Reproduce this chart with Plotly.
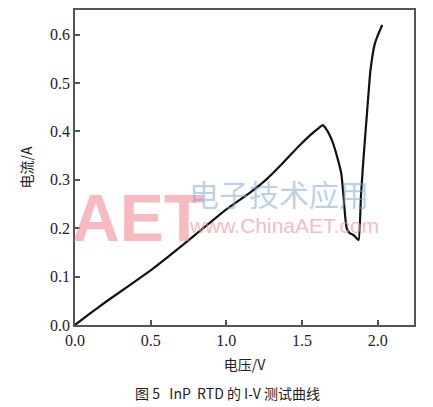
import plotly.graph_objects as go

voltage = [0.0, 0.1, 0.2, 0.36, 0.5, 0.6, 0.8, 1.0, 1.15, 1.265, 1.38, 1.48, 1.56, 1.61, 1.636, 1.66,
           1.70, 1.73, 1.76, 1.775, 1.785, 1.795, 1.815, 1.835, 1.85, 1.865, 1.875, 1.89, 1.91, 1.93,
           1.95, 1.965, 1.98, 2.0, 2.03]
current = [0.0, 0.024, 0.047, 0.082, 0.113, 0.137, 0.188, 0.239, 0.272, 0.301, 0.337, 0.37, 0.394, 0.407, 0.413, 0.405,
           0.38, 0.35, 0.312, 0.263, 0.225, 0.2, 0.19, 0.187, 0.183, 0.178, 0.176, 0.27, 0.36, 0.44,
           0.52, 0.555, 0.58, 0.598, 0.62]

x_ticks = [0.0, 0.5, 1.0, 1.5, 2.0]
y_ticks = [0.0, 0.1, 0.2, 0.3, 0.4, 0.5, 0.6]

serif = "Liberation Serif"
cjk = "Noto Sans CJK SC"

fig = go.Figure()
fig.add_trace(go.Scatter(x=voltage, y=current, mode="lines",
                         line=dict(color="#111111", width=2.2, shape="spline", smoothing=0.4),
                         showlegend=False, hoverinfo="skip"))

axis_common = dict(showline=True, linecolor="#555555", linewidth=1.6, mirror=True,
                   ticks="inside", ticklen=5, tickcolor="#555555", tickwidth=1.5,
                   showgrid=False, zeroline=False,
                   tickfont=dict(family=serif, size=16, color="#1c1c2c"))

fig.update_xaxes(range=[0, 2.24], tickvals=x_ticks, ticktext=[f"{v:.1f}" for v in x_ticks],
                 title=dict(text="电压/V", font=dict(family=cjk, size=14, color="#222"), standoff=12),
                 **axis_common)
fig.update_yaxes(range=[0, 0.651], tickvals=y_ticks, ticktext=[f"{v:.1f}" for v in y_ticks],
                 title=dict(text="电流/A", font=dict(family=cjk, size=14, color="#222"), standoff=14),
                 **axis_common)

# watermark
fig.add_annotation(text="<b>AET</b>", xref="paper", yref="paper", x=-0.015, y=0.34, xanchor="left", yanchor="middle",
                   showarrow=False, font=dict(family="Liberation Sans", size=66, color="rgba(240,140,150,0.6)"))
fig.add_annotation(text="电子技术应用", xref="paper", yref="paper", x=0.33, y=0.42, xanchor="left", yanchor="middle",
                   showarrow=False, font=dict(family=cjk, size=30, color="rgba(120,165,205,0.5)"))
fig.add_annotation(text="www.ChinaAET.com", xref="paper", yref="paper", x=0.33, y=0.315, xanchor="left", yanchor="middle",
                   showarrow=False, font=dict(family="Liberation Sans", size=21, color="rgba(240,140,150,0.6)"))

fig.add_annotation(text="图 5   InP  RTD 的 I-V 测试曲线", xref="paper", yref="paper", x=0.45, y=-0.215,
                   xanchor="center", yanchor="middle", showarrow=False,
                   font=dict(family=cjk, size=14, color="#222"))

fig.update_layout(width=433, height=407, margin=dict(l=75, r=19, t=8, b=82),
                  plot_bgcolor="white", paper_bgcolor="white")

fig.write_html("out.html")
